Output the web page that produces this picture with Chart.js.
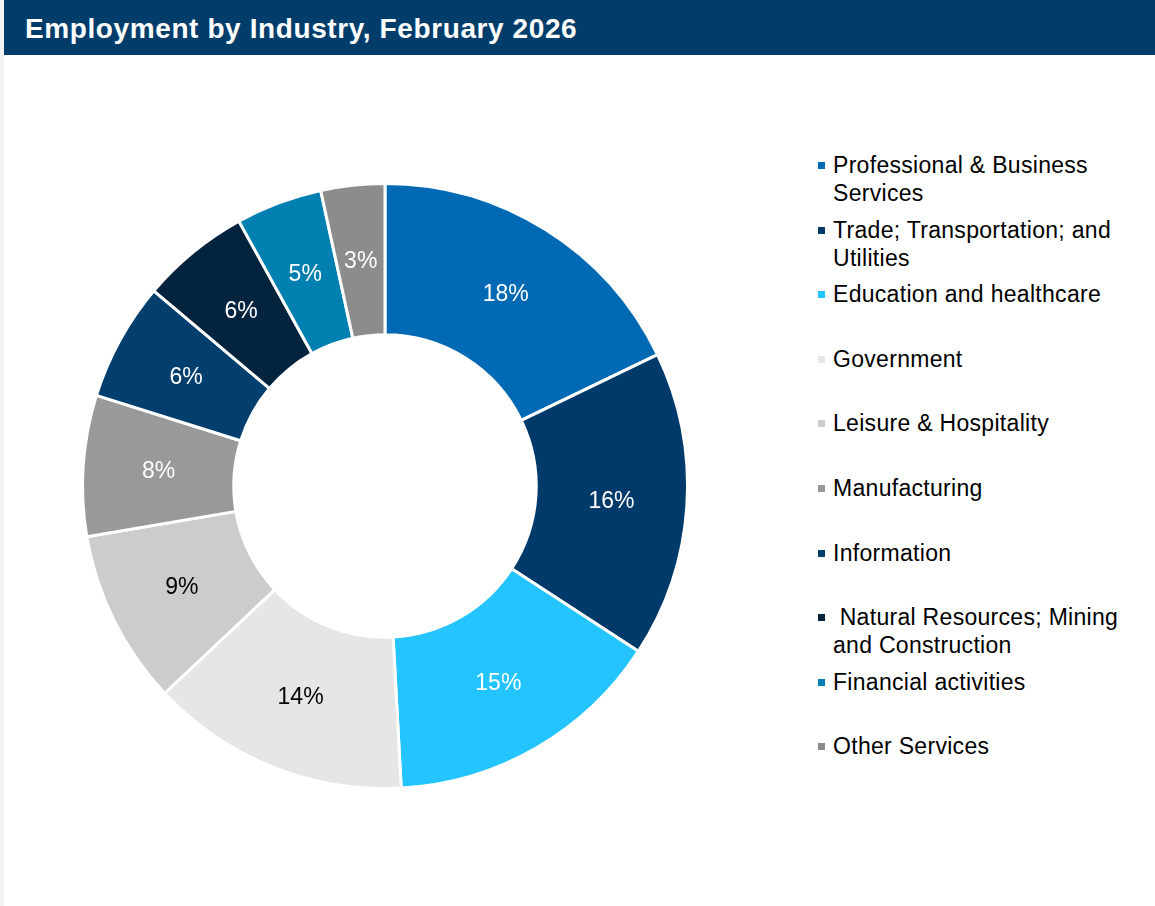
<!DOCTYPE html>
<html>
<head>
<meta charset="utf-8">
<script src="https://cdn.jsdelivr.net/npm/chart.js@4.4.1/dist/chart.umd.min.js"></script>
<style>
  body { margin: 0; width: 1155px; height: 906px; background: #ffffff; position: relative; overflow: hidden; font-family: "Liberation Sans", Arial, sans-serif; }
  #strip { position: absolute; left: 0; top: 0; width: 4px; height: 906px; background: #f2f2f2; }
  #title { position: absolute; left: 4px; top: 0; width: 1151px; height: 55px; background: #003d6b; color: #fff; font-weight: bold; font-size: 28px; letter-spacing: 0.6px; line-height: 57px; padding-left: 21px; box-sizing: border-box; }
  #chartBox { position: absolute; left: 35px; top: 136px; width: 700px; height: 700px; }
  #legend { position: absolute; left: 818px; top: 151px; }
  .item { height: 64.6px; position: relative; }
  .swatch { position: absolute; left: 0; top: 11px; width: 7px; height: 7px; }
  .text { position: absolute; left: 15px; top: 0; font-size: 23px; letter-spacing: 0.3px; line-height: 28px; color: #000; white-space: pre; }
</style>
</head>
<body>
<div id="strip"></div>
<div id="title">Employment by Industry, February 2026</div>
<div id="chartBox"><canvas id="donut"></canvas></div>
<div id="legend"></div>
<script>
// Industry categories (legend lines)
const industries = [
    ['Professional & Business', 'Services'],
    ['Trade; Transportation; and', 'Utilities'],
    ['Education and healthcare'],
    ['Government'],
    ['Leisure & Hospitality'],
    ['Manufacturing'],
    ['Information'],
    [' Natural Resources; Mining', 'and Construction'],
    ['Financial activities'],
    ['Other Services']
];

// Share of employment, percent
const shares = [17.8, 16.3, 14.9, 13.8, 9.3, 7.5, 6.3, 5.8, 4.6, 3.4];

const sliceColors = ['#0069b4', '#003a6b', '#23c4ff', '#e6e6e6', '#cccccc', '#999999', '#023e6e', '#03233f', '#0080b0', '#8c8c8c'];
const labelColors = ['#fff', '#fff', '#fff', '#000', '#000', '#fff', '#fff', '#fff', '#fff', '#fff'];

// Build the legend
const legend = document.getElementById('legend');
industries.forEach((lines, i) => {
    const item = document.createElement('div');
    item.className = 'item';
    item.innerHTML = `<div class="swatch" style="background:${sliceColors[i]}"></div><div class="text"></div>`;
    item.querySelector('.text').textContent = lines.join('\n');
    legend.appendChild(item);
});

// Draw percentage labels in the middle of each slice
const sliceLabels = {
    id: 'sliceLabels',
    afterDatasetsDraw(chart) {
        const ctx = chart.ctx;
        const data = chart.data.datasets[0].data;
        const total = data.reduce((a, b) => a + b, 0);
        ctx.save();
        ctx.font = '23px "Liberation Sans", Arial, sans-serif';
        ctx.textAlign = 'center';
        ctx.textBaseline = 'middle';
        chart.getDatasetMeta(0).data.forEach((arc, i) => {
            const p = arc.tooltipPosition();
            ctx.fillStyle = labelColors[i];
            ctx.fillText(Math.round(data[i] / total * 100) + '%', p.x, p.y + 1);
        });
        ctx.restore();
    }
};

new Chart(document.getElementById('donut'), {
    type: 'doughnut',
    data: {
        labels: industries.map(l => l.join(' ').trim()),
        datasets: [{
            data: shares,
            backgroundColor: sliceColors,
            borderColor: '#ffffff',
            borderWidth: 3
        }]
    },
    options: {
        responsive: true,
        maintainAspectRatio: false,
        animation: false,
        cutout: '50%',
        layout: { padding: 46 },
        plugins: {
            legend: { display: false },
            tooltip: { enabled: false }
        }
    },
    plugins: [sliceLabels]
});
</script>
</body>
</html>
